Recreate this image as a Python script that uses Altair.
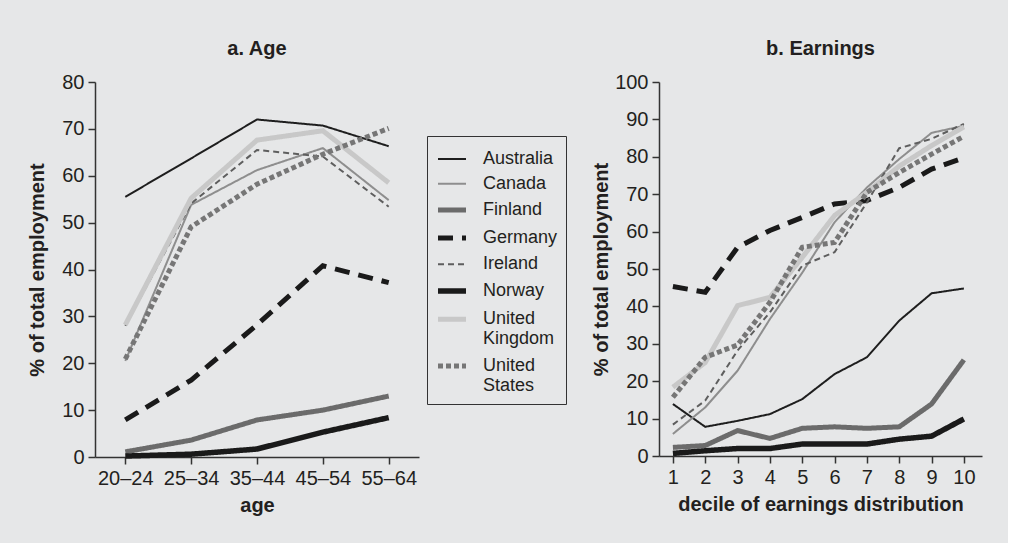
import altair as alt
import pandas as pd

FONT = "Liberation Sans"
INK = "#231f20"
BG = "#e6e7e8"

countries = ["Australia", "Canada", "Finland", "Germany", "Ireland",
             "Norway", "United Kingdom", "United States"]
line_colors = ["#1e1e1e", "#8e8e8e", "#6b6b6b", "#1a1a1a", "#5e5e5e",
               "#1a1a1a", "#c8c8c8", "#767676"]
line_dashes = [[1, 0], [1, 0], [1, 0], [15, 9], [6, 4], [1, 0], [1, 0], [5, 3]]
line_widths = [2, 2, 5, 5, 2, 5.5, 5, 5]

# Panel a: share of total employment by age group
age_groups = ["20–24", "25–34", "35–44", "45–54", "55–64"]
age_australia = [55.5, 63.7, 72.0, 70.7, 66.3]
age_canada = [20.5, 53.8, 61.2, 65.9, 54.8]
age_finland = [1.1, 3.6, 7.9, 10.0, 13.0]
age_germany = [7.9, 16.4, 28.2, 40.8, 37.2]
age_ireland = [28.0, 54.1, 65.5, 64.1, 53.4]
age_norway = [0.2, 0.6, 1.7, 5.3, 8.4]
age_uk = [28.2, 55.2, 67.6, 69.6, 58.5]
age_us = [20.9, 49.1, 58.2, 64.6, 70.1]

# Panel b: share of total employment by earnings decile
deciles = [1, 2, 3, 4, 5, 6, 7, 8, 9, 10]
earn_australia = [13.9, 7.8, 9.4, 11.2, 15.2, 21.9, 26.4, 36.2, 43.5, 44.8]
earn_canada = [5.9, 13.0, 22.8, 36.6, 49.0, 62.5, 71.8, 79.4, 86.4, 88.3]
earn_finland = [2.3, 2.8, 6.8, 4.7, 7.4, 7.8, 7.4, 7.8, 13.9, 25.7]
earn_germany = [45.3, 43.8, 55.8, 60.3, 63.8, 67.4, 68.3, 71.8, 76.7, 79.7]
earn_ireland = [8.4, 14.8, 28.2, 38.4, 50.9, 54.5, 67.8, 82.3, 84.8, 88.8]
earn_norway = [0.7, 1.4, 2.0, 2.0, 3.2, 3.2, 3.2, 4.5, 5.3, 9.9]
earn_uk = [18.4, 25.0, 40.2, 42.4, 53.1, 64.3, 70.5, 77.5, 83.0, 88.0]
earn_us = [15.7, 26.4, 29.7, 41.1, 55.8, 57.1, 70.5, 75.8, 80.7, 85.5]

age_series = [age_australia, age_canada, age_finland, age_germany,
              age_ireland, age_norway, age_uk, age_us]
earn_series = [earn_australia, earn_canada, earn_finland, earn_germany,
               earn_ireland, earn_norway, earn_uk, earn_us]

age_df = pd.DataFrame([
    {"country": c, "order": i, "age": a, "value": v}
    for i, (c, vals) in enumerate(zip(countries, age_series))
    for a, v in zip(age_groups, vals)
])
earn_df = pd.DataFrame([
    {"country": c, "order": i, "decile": d, "value": v}
    for i, (c, vals) in enumerate(zip(countries, earn_series))
    for d, v in zip(deciles, vals)
])

label_expr = ("datum.label == 'United Kingdom' ? ['United', 'Kingdom'] : "
              "datum.label == 'United States' ? ['United', 'States'] : datum.label")

legend = alt.Legend(
    title=None, orient="none", legendX=332, legendY=54,
    symbolType="stroke", symbolSize=784, labelFontSize=18, labelFont=FONT,
    labelColor=INK, labelOffset=14, rowPadding=0.8,
    strokeColor="#333333", padding=8, labelExpr=label_expr,
    fillColor=BG,
)


def style_encodings(show_legend):
    lg = legend if show_legend else None
    return dict(
        color=alt.Color("country:N", sort=countries,
                        scale=alt.Scale(domain=countries, range=line_colors),
                        legend=lg),
        strokeDash=alt.StrokeDash("country:N", sort=countries,
                                  scale=alt.Scale(domain=countries, range=line_dashes),
                                  legend=lg),
        strokeWidth=alt.StrokeWidth("country:N", sort=countries,
                                    scale=alt.Scale(type="ordinal", domain=countries,
                                                    range=line_widths),
                                    legend=lg),
        order=alt.Order("order:Q"),
        detail="country:N",
    )


y_title = "% of total employment"

age_chart = alt.Chart(age_df).mark_line(strokeCap="butt").encode(
    x=alt.X("age:N", sort=age_groups, title="age",
            scale=alt.Scale(type="point", padding=0.46),
            axis=alt.Axis(labelAngle=0)),
    y=alt.Y("value:Q", title=y_title,
            scale=alt.Scale(domain=[0, 80], nice=False),
            axis=alt.Axis(values=list(range(0, 81, 10)), titlePadding=14)),
    **style_encodings(True),
).properties(
    width=324, height=375,
    title=alt.TitleParams("a. Age", frame="group", anchor="middle", offset=13),
)

earn_chart = alt.Chart(earn_df).mark_line(strokeCap="butt").encode(
    x=alt.X("decile:Q", title="decile of earnings distribution",
            scale=alt.Scale(domain=[0.57, 10.56], nice=False, zero=False),
            axis=alt.Axis(values=deciles, format="d")),
    y=alt.Y("value:Q", title=y_title,
            scale=alt.Scale(domain=[0, 100], nice=False),
            axis=alt.Axis(values=list(range(0, 101, 10)), titlePadding=3)),
    **style_encodings(False),
).properties(
    width=323, height=374,
    title=alt.TitleParams("b. Earnings", frame="group", anchor="middle", offset=13),
)

chart = alt.hconcat(age_chart, earn_chart, spacing=24).resolve_legend(
    color="independent", strokeDash="independent", strokeWidth="independent"
).properties(
    background=BG,
    padding={"left": 27, "top": 39, "right": 26, "bottom": 28},
).configure_view(
    stroke=None,
).configure_axis(
    grid=False,
    labelFont=FONT, labelFontSize=20, labelColor=INK,
    titleFont=FONT, titleFontSize=20, titleFontWeight="bold", titleColor=INK,
    domainColor="#333333", domainWidth=1.5,
    tickColor="#333333", tickWidth=1.5, tickSize=7,
    labelPadding=4,
).configure_axisX(
    titlePadding=7,
).configure_title(
    font=FONT, fontSize=20, fontWeight="bold", color=INK,
)

chart.save("out.html", embed_options={"renderer": "svg", "actions": False})
